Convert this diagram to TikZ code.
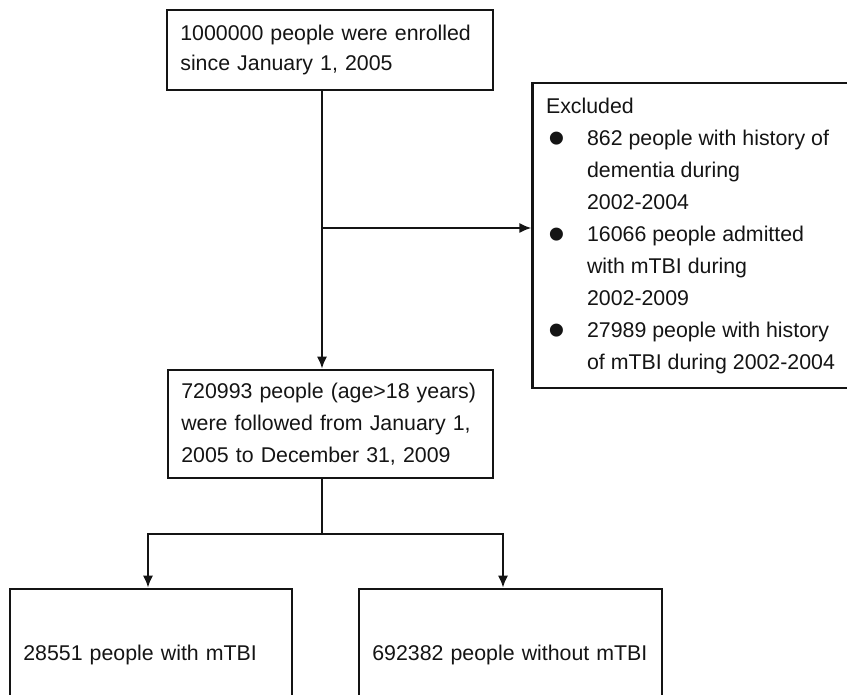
\documentclass[tikz,border=0pt]{standalone}
\usepackage{fontspec}
\setmainfont{Liberation Sans}
\usetikzlibrary{arrows.meta}
\definecolor{inkblack}{HTML}{141414}
\newcommand{\exbullet}{\makebox[30.75pt][l]{\hspace{2pt}\raisebox{-7pt}{\fontsize{36pt}{24pt}\selectfont\textbullet}}}
\newcommand{\exindent}{\hspace*{30.75pt}}

\begin{document}
\begin{tikzpicture}[x=0.75pt,y=-0.75pt,>={Latex[length=9pt,width=7.5pt]},
  flowbox/.style={draw=inkblack,line width=1.9pt,inner xsep=10pt,inner ysep=0pt,
    align=left,text=inkblack,font=\fontsize{16pt}{24pt}\selectfont},
  link/.style={draw=inkblack,line width=1.5pt}]
  \useasboundingbox (0,0) rectangle (847,695);
  % boxes
  \node[flowbox,minimum width=244.5pt,minimum height=60pt,text width=224.5pt,
    font=\fontsize{16pt}{22.5pt}\selectfont] (enrol) at (330,50)
    {1000000 people were enrolled\\since January 1, 2005};
  \node[flowbox,minimum width=231.75pt,minimum height=228.75pt] (excl) at (690.5,235.5)
    {Excluded\\
     \exbullet 862 people with history of\\
     \exindent dementia during\\
     \exindent 2002-2004\\
     \exbullet 16066 people admitted\\
     \exindent with mTBI during\\
     \exindent 2002-2009\\
     \exbullet 27989 people with history\\
     \exindent of mTBI during 2002-2004};
  \node[flowbox,minimum width=243.75pt,minimum height=81pt,text width=223.75pt] (follow) at (330.5,424)
    {720993 people (age>18 years)\\were followed from January 1,\\2005 to December 31, 2009};
  \node[flowbox,minimum width=211.5pt,minimum height=99pt,text width=191.5pt] (mtbi) at (151,655)
    {28551 people with mTBI};
  \node[flowbox,minimum width=227.25pt,minimum height=99pt,text width=207.25pt] (nomtbi) at (510.5,655)
    {692382 people without mTBI};
  % connectors
  \coordinate (trunk) at (322,228);
  \coordinate (forkL) at (148,534);
  \coordinate (forkR) at (503,534);
  \draw[link,->] (trunk |- enrol.south) -- (trunk |- follow.north);
  \draw[link,->] (trunk) -- (excl.west |- trunk);
  \draw[link] (trunk |- follow.south) -- (trunk |- forkL);
  \draw[link,<->] (forkL |- mtbi.north) -- (forkL) -- (forkR) -- (forkR |- nomtbi.north);
\end{tikzpicture}
\end{document}
